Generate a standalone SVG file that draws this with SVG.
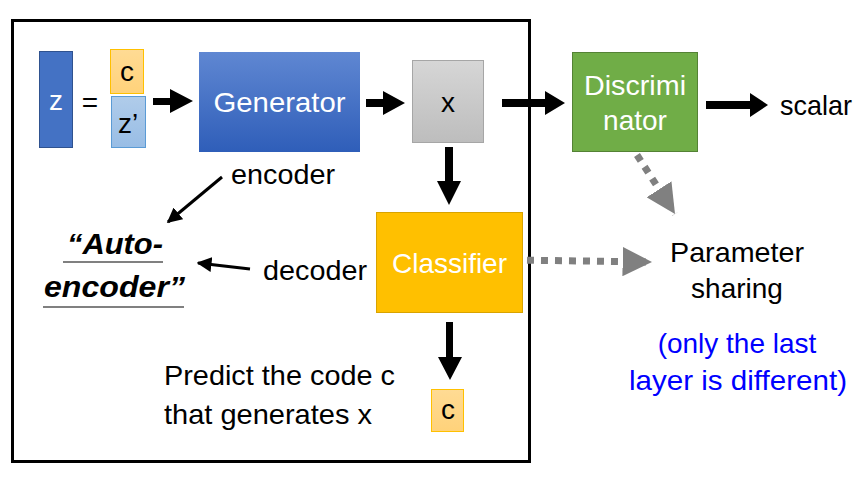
<svg xmlns="http://www.w3.org/2000/svg" width="865" height="481" viewBox="0 0 865 481">
<defs>
<linearGradient id="gBlue" x1="0" y1="0" x2="0" y2="1"><stop offset="0" stop-color="#5F87D2"/><stop offset="1" stop-color="#2F5EB9"/></linearGradient>
<linearGradient id="gGray" x1="0" y1="0" x2="0" y2="1"><stop offset="0" stop-color="#D6D6D6"/><stop offset="1" stop-color="#BDBDBD"/></linearGradient>
<linearGradient id="gOrange" x1="0" y1="0" x2="0" y2="1"><stop offset="0" stop-color="#FFDB94"/><stop offset="1" stop-color="#FFD27A"/></linearGradient>
<linearGradient id="gLBlue" x1="0" y1="0" x2="0" y2="1"><stop offset="0" stop-color="#B0CCEA"/><stop offset="1" stop-color="#98BDE5"/></linearGradient>
<marker id="gh" viewBox="0 0 10 10" refX="10" refY="5" markerWidth="4.2" markerHeight="4.2" orient="auto" markerUnits="strokeWidth"><path d="M0,0 L10,5 L0,10 z" fill="#808080"/></marker>
<marker id="bh" viewBox="0 0 10 10" refX="9" refY="5" markerWidth="5" markerHeight="5" orient="auto" markerUnits="strokeWidth"><path d="M0,0 L10,5 L0,10 z" fill="#000"/></marker>
</defs>
<style>
text{font-family:"Liberation Sans","DejaVu Sans",sans-serif;}
.t{font-size:28px;fill:#000;}
.w{fill:#fff;font-size:28px;}
.c{text-anchor:middle;}
.blue{fill:#0000FF;font-size:28px;}
.ae{font-size:30px;font-weight:bold;font-style:italic;}
.thin{stroke:#000;stroke-width:3;fill:none;}
.dot{stroke:#808080;stroke-width:7;stroke-dasharray:7 7;fill:none;}
.ul{stroke:#808080;stroke-width:2;}
</style>
<rect x="12.5" y="20.5" width="517" height="441" fill="#fff" stroke="#000" stroke-width="3"/>

<g id="connectors">
<path d="M153,98 H170 V89 L193,101 L170,113 V105 H153 z"/>
<path d="M366,99 H383 V91 L405,103 L383,115 V107 H366 z"/>
<path d="M502,99 H545 V91 L565,103 L545,115 V107 H502 z"/>
<path d="M706,101 H750 V93 L768,105 L750,117 V109 H706 z"/>
<path d="M445,147 H453 V181 H461 L449,205 L437,181 H445 z"/>
<path d="M446,322 H453 V357 H462 L450,380 L438,357 H446 z"/>
<line x1="222" y1="177" x2="168" y2="222" class="thin" marker-end="url(#bh)"/>
<line x1="250" y1="269" x2="198" y2="263" class="thin" marker-end="url(#bh)"/>
<line x1="513" y1="260" x2="652" y2="262" class="dot" marker-end="url(#gh)"/>
<line x1="637" y1="155" x2="675" y2="214" class="dot" marker-end="url(#gh)"/>
</g>

<g id="z">
<rect x="39.5" y="51.5" width="33" height="96" fill="#4472C4" stroke="#2F528F" stroke-width="1"/>
<text x="56" y="110" class="w c">z</text>
</g>
<g id="eq"><text x="90" y="112" class="t c">=</text></g>
<g id="c-top">
<rect x="110.5" y="49.5" width="33" height="44" fill="url(#gOrange)" stroke="#FFC000" stroke-width="1"/>
<text x="127" y="81" class="t c">c</text>
</g>
<g id="z-prime">
<rect x="111.5" y="96.5" width="34" height="51" fill="url(#gLBlue)" stroke="#5B9BD5" stroke-width="1"/>
<text x="128" y="133" class="t c">z’</text>
</g>
<g id="generator">
<rect x="199" y="52" width="161" height="100" fill="url(#gBlue)"/>
<text x="279.5" y="112" class="w c" textLength="132" lengthAdjust="spacingAndGlyphs">Generator</text>
</g>
<g id="x">
<rect x="412.5" y="60.5" width="71" height="82" fill="url(#gGray)" stroke="#A6A6A6" stroke-width="1"/>
<text x="448" y="112" class="t c">x</text>
</g>
<g id="discriminator">
<rect x="572.5" y="52.5" width="125" height="99" fill="#70AD47" stroke="#548235" stroke-width="1"/>
<text x="635" y="95" class="w c" textLength="102" lengthAdjust="spacingAndGlyphs">Discrimi</text>
<text x="635" y="130" class="w c">nator</text>
</g>
<g id="scalar"><text x="780" y="115" class="t" textLength="72" lengthAdjust="spacingAndGlyphs">scalar</text></g>
<g id="encoder-label"><text x="231" y="184" class="t" textLength="104" lengthAdjust="spacingAndGlyphs">encoder</text></g>
<g id="autoencoder">
<text x="67" y="254" class="ae" textLength="96" lengthAdjust="spacingAndGlyphs">“Auto-</text>
<line x1="63" y1="262" x2="163" y2="262" class="ul"/>
<text x="44" y="297" class="ae" textLength="141" lengthAdjust="spacingAndGlyphs">encoder”</text>
<line x1="43" y1="307" x2="184" y2="307" class="ul"/>
</g>
<g id="decoder-label"><text x="263" y="280" class="t" textLength="104" lengthAdjust="spacingAndGlyphs">decoder</text></g>
<g id="classifier">
<rect x="376.5" y="212.5" width="146" height="100" fill="#FFC000" stroke="#D9A300" stroke-width="1"/>
<text x="392" y="273" class="w" textLength="115" lengthAdjust="spacingAndGlyphs">Classifier</text>
</g>
<g id="parameter-sharing">
<text x="670" y="262" class="t" textLength="134" lengthAdjust="spacingAndGlyphs">Parameter</text>
<text x="737" y="298" class="t c">sharing</text>
<text x="737" y="353" class="blue c">(only the last</text>
<text x="629" y="390" class="blue" textLength="218" lengthAdjust="spacingAndGlyphs">layer is different)</text>
</g>
<g id="predict">
<text x="164" y="385" class="t" textLength="231" lengthAdjust="spacingAndGlyphs">Predict the code c</text>
<text x="164" y="424" class="t" textLength="208" lengthAdjust="spacingAndGlyphs">that generates x</text>
</g>
<g id="c-bottom">
<rect x="431.5" y="389.5" width="32" height="42" fill="url(#gOrange)" stroke="#FFC000" stroke-width="1"/>
<text x="448" y="419" class="t c">c</text>
</g>
</svg>
